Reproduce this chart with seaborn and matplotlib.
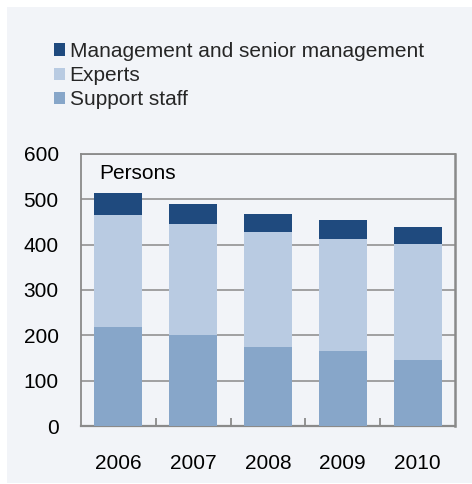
import matplotlib
matplotlib.use("Agg")
import matplotlib.pyplot as plt
from matplotlib.patches import Patch, Rectangle
import numpy as np
import pandas as pd
import seaborn as sns

# Staff by category, persons
years = ["2006", "2007", "2008", "2009", "2010"]
support_staff = [218, 201, 175, 166, 146]
experts = [248, 244, 252, 246, 256]
management = [49, 45, 41, 42, 38]

series_names = ["Management and senior management", "Experts", "Support staff"]
colors = {"Management and senior management": "#1f4a7e",
          "Experts": "#b9cbe2",
          "Support staff": "#87a6c9"}
y_ticks = [0, 100, 200, 300, 400, 500, 600]

sns.set_theme(style="white")
plt.rcParams["font.family"] = ["Liberation Sans", "DejaVu Sans"]

FS = 15
bg = "#f2f4f8"
fig = plt.figure(figsize=(4.72, 4.84), dpi=100)
fig.patch.set_facecolor("white")
fig.patches.append(Rectangle((7 / 472, 1 - 483 / 484), 465 / 472, 476 / 484,
                             transform=fig.transFigure, facecolor=bg,
                             edgecolor="none", zorder=-5))

ax = fig.add_axes([81 / 472, 1 - 426 / 484, 374 / 472, 272 / 484])
ax.set_facecolor(bg)

df = pd.DataFrame({"year": years,
                   "support": support_staff,
                   "experts": experts,
                   "management": management})
df["lower"] = df["support"]
df["middle"] = df["support"] + df["experts"]
df["total"] = df["middle"] + df["management"]

# Stacked bars drawn as overlapping cumulative totals
for col, name in [("total", "Management and senior management"),
                  ("middle", "Experts"),
                  ("lower", "Support staff")]:
    sns.barplot(data=df, x="year", y=col, color=colors[name], width=0.64,
                saturation=1, edgecolor="none", ax=ax, zorder=3)

ax.set_ylim(0, 600)
ax.set_xlim(-0.5, 4.5)
ax.set_yticks(y_ticks)
ax.set_xlabel("")
ax.set_ylabel("")
ax.yaxis.grid(True, color="#9a9a9a", linewidth=1.3, zorder=1)
ax.set_axisbelow(True)

for s in ax.spines.values():
    s.set_color("#8a8a8a")
    s.set_linewidth(1.3)
ax.spines["bottom"].set_linewidth(1.6)
ax.spines["right"].set_linewidth(1.8)

ax.tick_params(axis="y", length=0, pad=16, labelsize=FS, labelcolor="black")
ax.tick_params(axis="x", which="major", length=0, pad=20, labelsize=FS,
               labelcolor="black")
ax.set_xticks(np.arange(0.5, 4.5, 1.0), minor=True)
ax.tick_params(axis="x", which="minor", direction="in", length=6,
               width=1.3, color="#8a8a8a", bottom=True)

ax.text(0.05, 0.965, "Persons", transform=ax.transAxes, fontsize=FS,
        va="top", ha="left", color="black")

handles = [Patch(facecolor=colors[n], edgecolor="none", label=n) for n in series_names]
fig.legend(handles=handles, loc="upper left", bbox_to_anchor=(54 / 472, 1 - 42 / 484),
           frameon=False, fontsize=FS, handlelength=0.55, handleheight=0.55,
           handletextpad=0.2, labelspacing=0.25, borderaxespad=0, borderpad=0)

fig.savefig("out.png", dpi=100, facecolor="white")
